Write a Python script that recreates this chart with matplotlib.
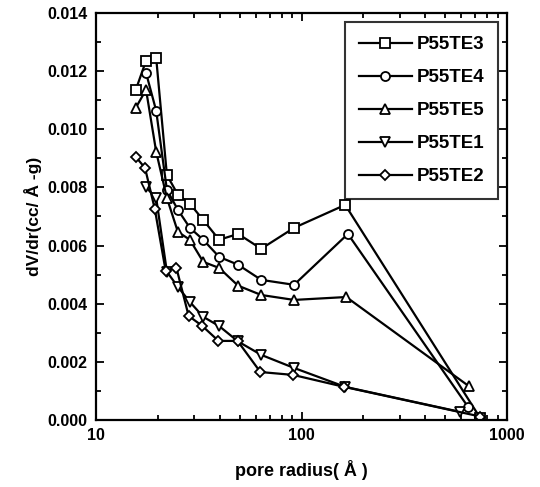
import matplotlib
matplotlib.use("Agg")
import matplotlib.pyplot as plt
import numpy as np
from matplotlib.ticker import FixedLocator, FormatStrFormatter, MultipleLocator, LogLocator, NullFormatter

plt.rcParams['font.family'] = ['Liberation Sans', 'DejaVu Sans']

# pore radius (A) and dV/dr values
r_te3 = [15.6, 17.5, 19.6, 22.1, 25.0, 28.6, 33.2, 39.7, 49.1, 63.6, 91.9, 163, 740]
v_te3 = [0.01136, 0.01236, 0.01246, 0.00843, 0.00775, 0.00744, 0.00688, 0.0062,
         0.0064, 0.00589, 0.00661, 0.0074, 0.00007]

r_te4 = [17.5, 19.6, 22.1, 25.0, 28.6, 33.2, 39.7, 49.1, 63.6, 91.9, 168, 646]
v_te4 = [0.01194, 0.01064, 0.00792, 0.00723, 0.00661, 0.0062, 0.00561, 0.00534,
         0.00482, 0.00465, 0.0064, 0.00045]

r_te5 = [15.6, 17.5, 19.6, 22.1, 25.0, 28.6, 33.2, 39.7, 49.1, 63.6, 91.9, 165, 650]
v_te5 = [0.01074, 0.01136, 0.00923, 0.00764, 0.00647, 0.0062, 0.00544, 0.00523,
         0.00462, 0.0043, 0.00413, 0.00423, 0.00117]

r_te1 = [17.5, 19.6, 22.1, 25.0, 28.6, 33.2, 39.7, 49.1, 63.6, 91.9, 163, 590]
v_te1 = [0.0080, 0.00764, 0.0051, 0.00458, 0.00406, 0.00355, 0.00323, 0.0027,
         0.00224, 0.00179, 0.00114, 0.00028]

r_te2 = [15.6, 17.3, 19.3, 21.8, 24.6, 28.2, 32.8, 39.4, 48.8, 63.0, 91.0, 161, 740]
v_te2 = [0.00905, 0.00867, 0.00726, 0.00513, 0.00523, 0.00358, 0.00324, 0.00272,
         0.00272, 0.00165, 0.00155, 0.00114, 0.00012]

series = [("P55TE3", r_te3, v_te3, "s"),
          ("P55TE4", r_te4, v_te4, "o"),
          ("P55TE5", r_te5, v_te5, "^"),
          ("P55TE1", r_te1, v_te1, "v"),
          ("P55TE2", r_te2, v_te2, "D")]

fig = plt.figure(figsize=(5.4, 4.87), dpi=100)
ax = fig.add_axes([0.178, 0.1376, 0.761, 0.8357])

for name, r, v, m in series:
    ms = 5.5 if m == "D" else 6.5
    ax.plot(r, v, color="black", lw=1.6, marker=m, ms=ms, mfc="white",
            mec="black", mew=1.3, label=name)

ax.set_xscale("log")
ax.set_xlim(10, 1000)
ax.set_ylim(0, 0.014)
ax.xaxis.set_major_locator(FixedLocator([10, 100, 1000]))
ax.set_xticklabels(["10", "100", "1000"])
ax.xaxis.set_minor_locator(LogLocator(base=10, subs=np.arange(2, 10)))
ax.xaxis.set_minor_formatter(NullFormatter())
ax.yaxis.set_major_locator(MultipleLocator(0.002))
ax.yaxis.set_minor_locator(MultipleLocator(0.001))
ax.yaxis.set_major_formatter(FormatStrFormatter("%.3f"))

ax.tick_params(which="both", direction="in", top=True, right=True, width=1.3)
ax.tick_params(which="major", length=6, labelsize=11.5, pad=6)
ax.tick_params(which="minor", length=3.5)
for lab in ax.get_xticklabels() + ax.get_yticklabels():
    lab.set_fontweight("bold")
for s in ax.spines.values():
    s.set_linewidth(1.6)

ax.set_xlabel("pore radius( Å )", fontsize=13, fontweight="bold", labelpad=12)
ax.set_ylabel("dV/dr(cc/ Å -g)", fontsize=12.5, fontweight="bold", labelpad=4)

leg = ax.legend(loc="upper right", bbox_to_anchor=(0.978, 0.978), borderaxespad=0,
                fontsize=13.5, frameon=True, fancybox=False, edgecolor="black",
                handlelength=2.8, labelspacing=0.85, borderpad=0.75,
                handletextpad=0.25)
leg.get_frame().set_linewidth(1.5)
for t in leg.get_texts():
    t.set_fontweight("bold")

fig.savefig("out.png", dpi=100)
